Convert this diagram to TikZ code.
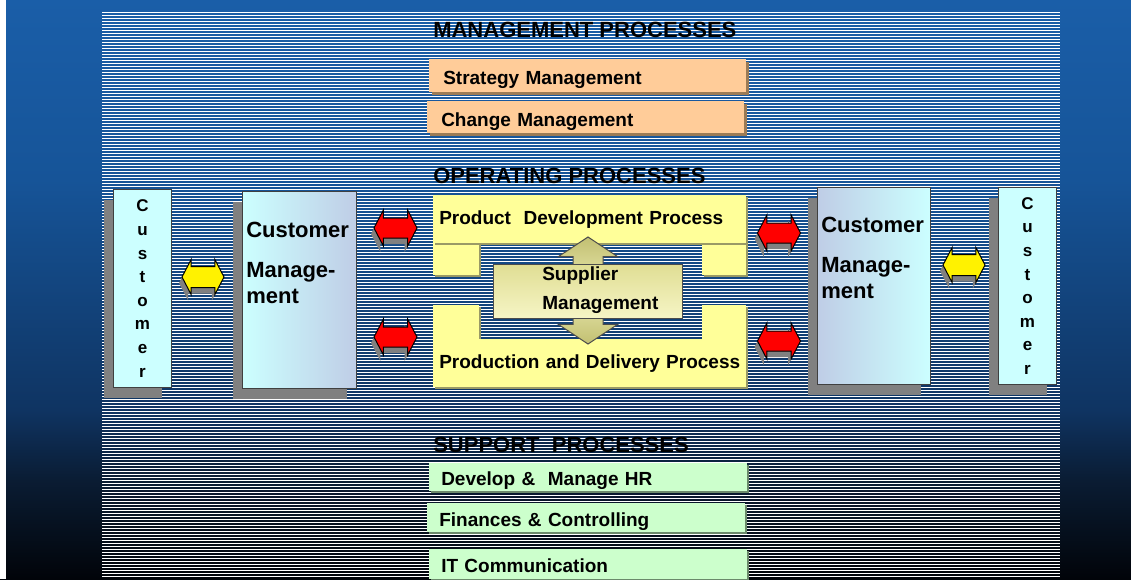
\documentclass[tikz,border=0pt]{standalone}
\usepackage{fontspec}
\setmainfont{Liberation Sans}
\usetikzlibrary{positioning, shadows, shapes.arrows}

\definecolor{bgtop}{RGB}{26,94,168}
\definecolor{bgupper}{RGB}{22,84,152}
\definecolor{bgmid}{RGB}{15,52,98}
\definecolor{bglow}{RGB}{10,28,51}
\definecolor{bgbottom}{RGB}{1,4,9}
\definecolor{peach}{HTML}{FFCC99}
\definecolor{peachshadow}{HTML}{9C7B55}
\definecolor{procyellow}{HTML}{FFFF99}
\definecolor{yellowshadow}{HTML}{9A9A66}
\definecolor{suppgreen}{HTML}{CCFFCC}
\definecolor{greenshadow}{HTML}{6B8A6B}
\definecolor{custcyan}{HTML}{CCFFFF}
\definecolor{custblue}{HTML}{BFCDE6}
\definecolor{shadegray}{HTML}{808080}
\definecolor{olivedark}{HTML}{C2C072}
\definecolor{olivelight}{HTML}{ECEBB2}
\definecolor{suptop}{HTML}{E0DE94}
\definecolor{supbottom}{HTML}{F6F5C6}

\pgfdeclareverticalshading{bgfade}{100bp}{color(0bp)=(bgbottom); color(25bp)=(bgbottom); color(33.5bp)=(bglow); color(39.6bp)=(bgmid); color(59.5bp)=(bgupper); color(75bp)=(bgtop); color(100bp)=(bgtop)}

\newcommand{\pu}{0.75pt}
\newcommand{\procTitleFont}{\bfseries\fontsize{16.5pt}{19pt}\selectfont}
\newcommand{\procBoxFont}{\bfseries\fontsize{14.25pt}{17pt}\selectfont}
\newcommand{\suppFont}{\bfseries\fontsize{14.25pt}{21.75pt}\selectfont}
\newcommand{\custMgmtFont}{\bfseries\fontsize{16.5pt}{19.9pt}\selectfont}
\newcommand{\custLetterFont}{\bfseries\fontsize{12.75pt}{17.7pt}\selectfont}

\begin{document}
\begin{tikzpicture}[x=0.75pt, y=-0.75pt]
   \tikzset{
     proctitle/.style={anchor=base west, inner sep=0pt, font=\procTitleFont},
     stripe/.style={white, line width=1*\pu},
     mgmtbox/.style={anchor=north west, fill=peach, inner xsep=14*\pu, inner ysep=0pt, text width=289*\pu, align=left,
       text height=18*\pu, text depth=0pt, font=\procBoxFont,
       drop shadow={shadow xshift=2.5*\pu, shadow yshift=-2.5*\pu, fill=peachshadow, opacity=1}},
     suppbox/.style={anchor=north west, fill=suppgreen, inner xsep=12*\pu, inner ysep=0pt, text width=294*\pu, align=left,
       text height=17*\pu, text depth=0pt, font=\procBoxFont,
       drop shadow={shadow xshift=2*\pu, shadow yshift=-2*\pu, fill=greenshadow, opacity=1}},
     opbox/.style={anchor=north west, fill=procyellow, inner xsep=6*\pu, inner ysep=0pt, text width=301*\pu, align=left,
       text height=10*\pu, text depth=0pt, font=\procBoxFont, minimum height=48*\pu,
       drop shadow={shadow xshift=2*\pu, shadow yshift=-2*\pu, fill=yellowshadow, opacity=1}},
     opsquare/.style={anchor=north west, fill=procyellow, inner sep=0pt,
       drop shadow={shadow xshift=1.5*\pu, shadow yshift=-1.5*\pu, fill=yellowshadow, opacity=1}},
     custbox/.style={anchor=north west, draw=black!75, line width=1*\pu, fill=custcyan, inner sep=0pt,
       align=center, font=\custLetterFont,
       drop shadow={shadow xshift=-10*\pu, shadow yshift=-10*\pu, fill=shadegray, opacity=1}},
     cmtext/.style={anchor=north west, inner sep=0pt, align=left, font=\custMgmtFont},
     linkarrow/.style={double arrow, draw=black, line width=1*\pu,
       double arrow tip angle=125, double arrow head indent=0pt,
       drop shadow={shadow xshift=-3*\pu, shadow yshift=-6*\pu, fill=shadegray, opacity=1}},
     redarrow/.style={linkarrow, fill=red, inner sep=9.5*\pu, minimum height=43*\pu, minimum width=35*\pu, double arrow head extend=8*\pu},
     yelarrow/.style={linkarrow, fill=yellow, inner sep=10*\pu, minimum height=42*\pu, minimum width=34*\pu, double arrow head extend=7*\pu}
   }
  % backdrop
  \shade[shading=bgfade] (0,0) rectangle (1131,579);
  \fill[white] (0,0) rectangle (6,579);
  \useasboundingbox (0,0) rectangle (1131,579);

  \foreach \k in {0,...,188}
    \draw[stripe] (102,12.5+3*\k) -- (1060,12.5+3*\k);

  \node[proctitle] (tMgmt) at (433,37) {MANAGEMENT PROCESSES};
  \node[proctitle] (tOper) at (433,183) {OPERATING PROCESSES};
  \node[proctitle] (tSupp) at (433,452) {SUPPORT\ \ PROCESSES};

  % management processes
  \node[mgmtbox, minimum height=33*\pu] (strat) at (429,59) {Strategy Management};
  \node[mgmtbox, minimum height=32*\pu] (change) at (427,101) {Change Management};

  % support processes
  \node[suppbox, minimum height=28*\pu] (hr) at (429,463) {Develop \&\ \ Manage HR};
  \node[suppbox, minimum height=29*\pu] (fin) at (427,503) {Finances \& Controlling};
  \node[suppbox, minimum height=30*\pu] (itc) at (429,549) {IT Communication};

  % customers
  \node[custbox, minimum width=58*\pu, minimum height=198*\pu] (custL) at (113,189) {C\\u\\s\\t\\o\\m\\e\\r};
  \node[custbox, left color=custcyan, right color=custblue, minimum width=114*\pu, minimum height=197*\pu] (cmL) at (242,191) {};
  \node[cmtext] (cmLtxt) at ([xshift=4*\pu,yshift=-31*\pu]cmL.north west) {Customer\\[9.75pt]Manage-\\ment};
  \node[custbox, left color=custblue, right color=custcyan, minimum width=113*\pu, minimum height=197*\pu] (cmR) at (817,187) {};
  \node[cmtext] (cmRtxt) at ([xshift=4*\pu,yshift=-30*\pu]cmR.north west) {Customer\\[9.75pt]Manage-\\ment};
  \node[custbox, minimum width=58*\pu, minimum height=197*\pu] (custR) at (998,187) {C\\u\\s\\t\\o\\m\\e\\r};

  % operating processes
  \node[opsquare, minimum width=46*\pu, minimum height=32*\pu] (sqTL) at (433,243) {};
  \node[opsquare, minimum width=44*\pu, minimum height=32*\pu] (sqTR) at (702,243) {};
  \node[opsquare, minimum width=46*\pu, minimum height=34*\pu] (sqBL) at (433,305) {};
  \node[opsquare, minimum width=44*\pu, minimum height=34*\pu] (sqBR) at (702,305) {};
  \node[opbox] (prodDev) at (433,195) {Product\ \ Development Process};
  \node[opbox] (prodDel) at (433,339) {Production and Delivery Process};

  \node[double arrow, shape border rotate=90, draw=black!70, line width=1*\pu, inner sep=14.5*\pu,
    top color=olivedark, bottom color=olivedark, middle color=olivelight,
    minimum height=107*\pu, minimum width=58*\pu, double arrow head extend=14.5*\pu,
    double arrow tip angle=113, double arrow head indent=0pt] (supArrow) at (588,290.5) {};
  \node[anchor=north west, draw=black!70, line width=1*\pu, top color=suptop, bottom color=supbottom,
    minimum width=189*\pu, minimum height=54*\pu] (supBox) at (493,264) {};
  \node[anchor=west, inner sep=0pt, align=left, font=\suppFont] (supTxt) at ([xshift=49*\pu,yshift=1.5*\pu]supBox.west) {Supplier\\Management};

  % links
  \node[redarrow] (redTL) at (395.5,228) {};
  \node[redarrow] (redBL) at (395.5,337) {};
  \node[redarrow] (redTR) at (779,233) {};
  \node[redarrow] (redBR) at (779,341) {};
  \node[yelarrow] (yelL) at (203,277) {};
  \node[yelarrow] (yelR) at (964,265) {};
\end{tikzpicture}
\end{document}
